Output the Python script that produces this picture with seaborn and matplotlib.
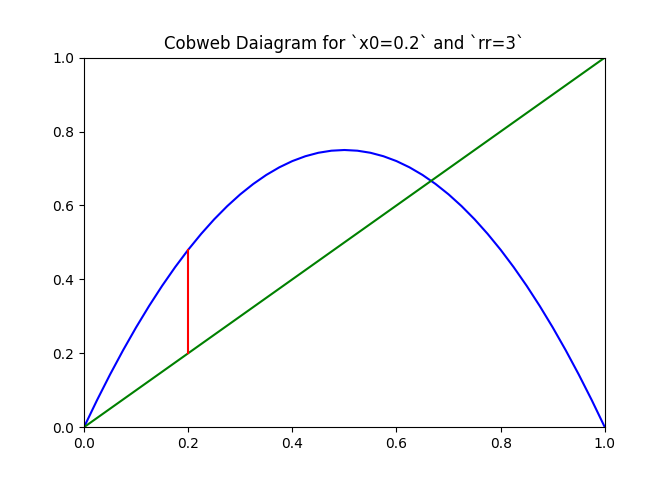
import matplotlib
matplotlib.use("Agg")
import matplotlib.pyplot as plt
import seaborn as sns

# Values
x0 = 0.2
rr = 3

# blue curve, sampled every 0.025
curve_x = [0.0, 0.025, 0.05, 0.075, 0.1, 0.125, 0.15, 0.175, 0.2, 0.225,
           0.25, 0.275, 0.3, 0.325, 0.35, 0.375, 0.4, 0.425, 0.45, 0.475,
           0.5, 0.525, 0.55, 0.575, 0.6, 0.625, 0.65, 0.675, 0.7, 0.725,
           0.75, 0.775, 0.8, 0.825, 0.85, 0.875, 0.9, 0.925, 0.95, 0.975, 1.0]
curve_y = [0.0, 0.0731, 0.1425, 0.2081, 0.27, 0.3281, 0.3825, 0.4331, 0.48, 0.5231,
           0.5625, 0.5981, 0.63, 0.6581, 0.6825, 0.7031, 0.72, 0.7331, 0.7425, 0.7481,
           0.75, 0.7481, 0.7425, 0.7331, 0.72, 0.7031, 0.6825, 0.6581, 0.63, 0.5981,
           0.5625, 0.5231, 0.48, 0.4331, 0.3825, 0.3281, 0.27, 0.2081, 0.1425, 0.0731, 0.0]

# green diagonal
diag_x = [0.0, 1.0]
diag_y = [0.0, 1.0]

# red cobweb step
web_x = [0.2, 0.2]
web_y = [0.2, 0.48]

fig, ax = plt.subplots(figsize=(6.72, 4.8), dpi=100)

sns.lineplot(x=curve_x, y=curve_y, color="blue", estimator=None, sort=False, ax=ax)
sns.lineplot(x=diag_x, y=diag_y, color="green", estimator=None, sort=False, ax=ax)
sns.lineplot(x=web_x, y=web_y, color="red", estimator=None, sort=False, ax=ax)

ax.set_xlim(0, 1)
ax.set_ylim(0, 1)
ax.set_title(f"Cobweb Daiagram for `x0={x0}` and `rr={rr}`")

fig.savefig("out.png")
